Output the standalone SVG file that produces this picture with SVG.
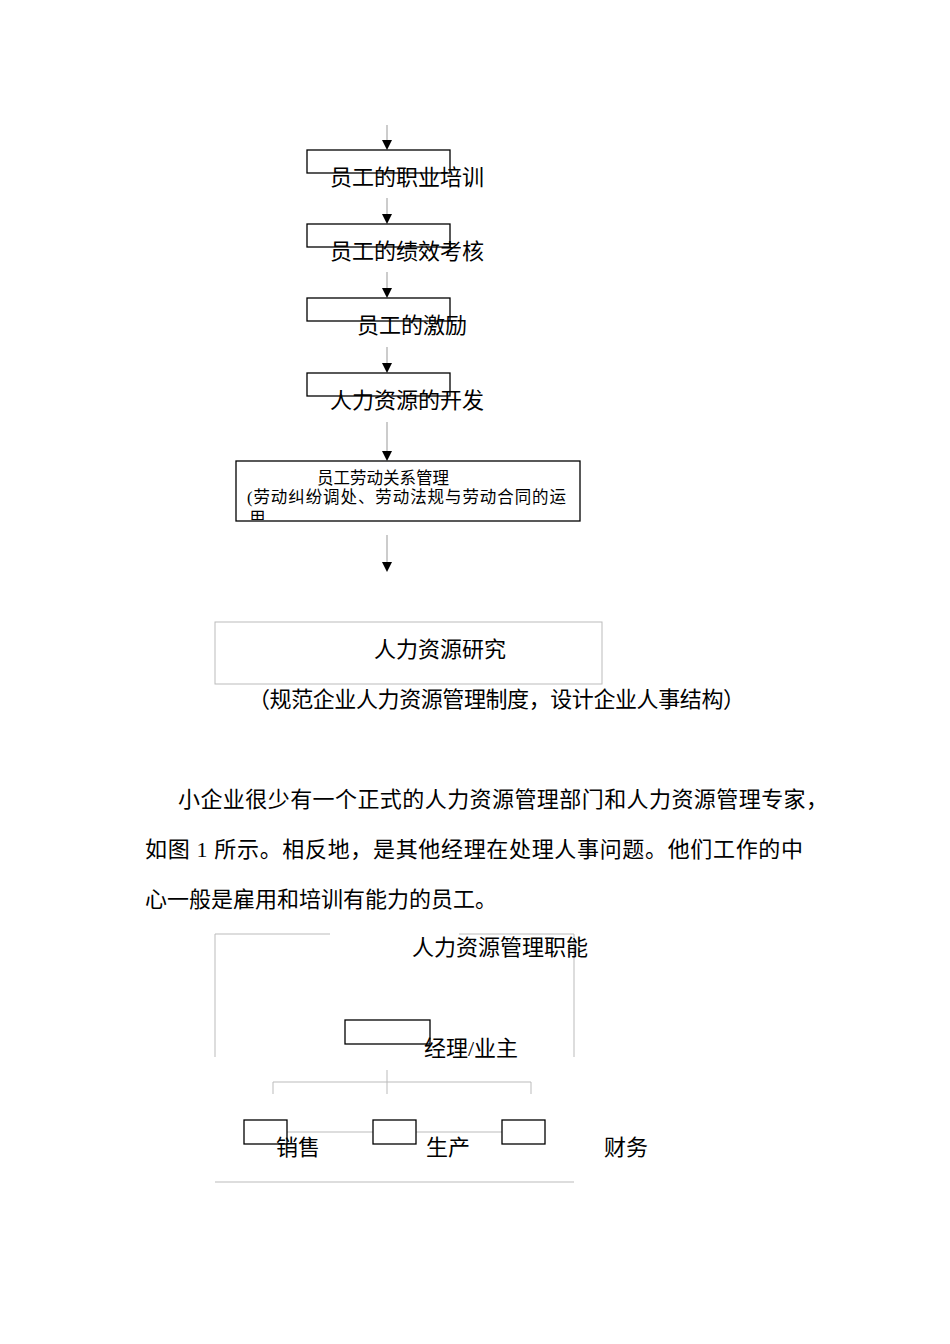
<svg xmlns="http://www.w3.org/2000/svg" width="950" height="1344" viewBox="0 0 950 1344">
<style>
text{font-family:"Liberation Serif","Noto Sans CJK SC",serif;fill:#000}
.t22{font-size:22px}
.t16{font-size:16.5px}
.box{fill:none;stroke:#000;stroke-width:1.3}
.gbox{fill:none;stroke:#bbb;stroke-width:1}
.conn{stroke:#999;stroke-width:1;fill:none}
.gl{stroke:#bbb;stroke-width:1;fill:none}
</style>
<defs>
<clipPath id="c5"><rect x="236" y="461" width="344" height="59"/></clipPath>
</defs>
<rect width="950" height="1344" fill="#fff"/>
<g id="connectors">
<line class="conn" x1="387" y1="125" x2="387" y2="140"/><polygon points="382,140 392,140 387,150" fill="#000"/>
<line class="conn" x1="387" y1="198" x2="387" y2="214"/><polygon points="382,214 392,214 387,224" fill="#000"/>
<line class="conn" x1="387" y1="272" x2="387" y2="288"/><polygon points="382,288 392,288 387,298" fill="#000"/>
<line class="conn" x1="387" y1="347" x2="387" y2="363"/><polygon points="382,363 392,363 387,373" fill="#000"/>
<line class="conn" x1="387" y1="422" x2="387" y2="451"/><polygon points="382,451 392,451 387,461" fill="#000"/>
<line class="conn" x1="387" y1="535" x2="387" y2="562"/><polygon points="382,562 392,562 387,572" fill="#000"/>
<line class="gl" x1="387" y1="1070" x2="387" y2="1094"/>
<polyline class="gl" points="273,1094 273,1082 531,1082 531,1094"/>
<line class="gl" x1="287" y1="1132" x2="373" y2="1132"/>
<line class="gl" x1="416" y1="1132" x2="502" y2="1132"/>
</g>
<g id="n1"><rect class="box" x="307" y="150" width="143" height="23"/><text class="t22" x="330" y="185">员工的职业培训</text></g>
<g id="n2"><rect class="box" x="307" y="224" width="143" height="23"/><text class="t22" x="330" y="259">员工的绩效考核</text></g>
<g id="n3"><rect class="box" x="307" y="298" width="143" height="23"/><text class="t22" x="357" y="333">员工的激励</text></g>
<g id="n4"><rect class="box" x="307" y="373" width="143" height="23"/><text class="t22" x="330" y="408">人力资源的开发</text></g>
<g id="n5"><rect class="box" x="236" y="461" width="344" height="60"/>
<text class="t16" x="317" y="484">员工劳动关系管理</text>
<text class="t16" x="247" y="503" textLength="319">(劳动纠纷调处、劳动法规与劳动合同的运</text>
<text class="t16" x="249" y="524" clip-path="url(#c5)">用、</text></g>
<g id="n6"><rect class="gbox" x="215" y="622" width="387" height="62"/><text class="t22" x="374" y="657">人力资源研究</text>
<text class="t22" x="248" y="707" textLength="497">（规范企业人力资源管理制度，设计企业人事结构）</text></g>
<g id="para">
<text class="t22" x="178" y="807" textLength="650">小企业很少有一个正式的人力资源管理部门和人力资源管理专家，</text>
<text class="t22" x="145" y="857" textLength="658">如图 1 所示。相反地，是其他经理在处理人事问题。他们工作的中</text>
<text class="t22" x="145" y="907">心一般是雇用和培训有能力的员工。</text>
</g>
<g id="frame">
<polyline class="gl" points="215,1057 215,934 330,934"/>
<polyline class="gl" points="459,934 574,934 574,1057"/>
<line class="gl" x1="215" y1="1182" x2="574" y2="1182"/>
<text class="t22" x="412" y="955">人力资源管理职能</text>
</g>
<g id="manager"><rect class="box" x="345" y="1020" width="85" height="24"/><text class="t22" x="424" y="1056">经理/业主</text></g>
<g id="sales"><rect class="box" x="244" y="1120" width="43" height="24"/><text class="t22" x="276" y="1155">销售</text></g>
<g id="production"><rect class="box" x="373" y="1120" width="43" height="24"/><text class="t22" x="426" y="1155">生产</text></g>
<g id="finance"><rect class="box" x="502" y="1120" width="43" height="24"/><text class="t22" x="604" y="1155">财务</text></g>
</svg>
